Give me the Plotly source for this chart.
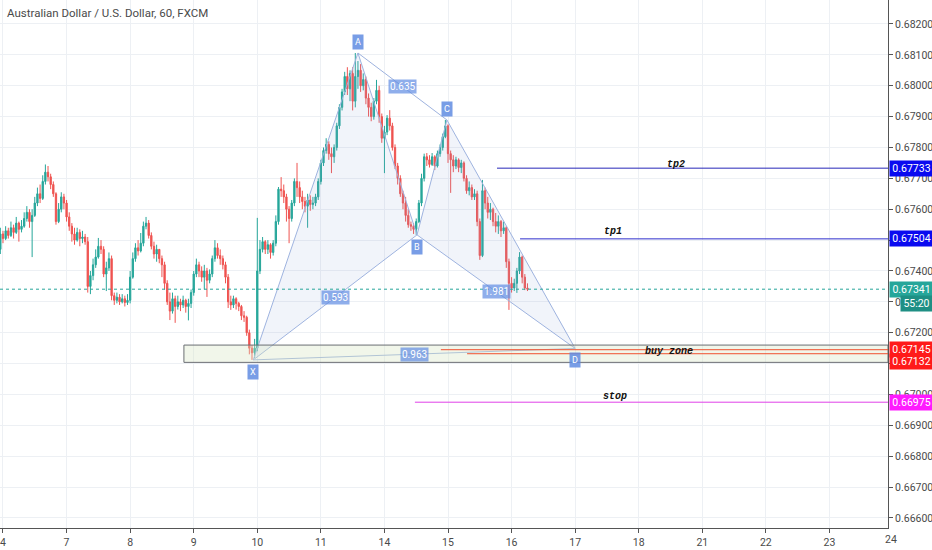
import plotly.graph_objects as go

BASE = 0.67        # candle prices are in points (1e-5) above this
first_hour = -1    # hours from Oct 4 00:00, weekends skipped

open_pts = [
    470, 520, 505, 530, 515, 540, 525, 555, 535, 545, 570,
    590, 560, 580, 620, 650, 635, 690, 720, 705, 680,
    650, 560, 600, 640, 620, 575, 545, 520, 500, 525,
    505, 510, 495, 350, 385, 420, 445, 480, 470, 390,
    410, 440, 320, 305, 315, 300, 310, 298, 305, 380,
    440, 475, 465, 490, 545, 555, 515, 480, 455, 470,
    440, 420, 360, 300, 270, 310, 285, 300, 290, 305,
    285, 295, 330, 390, 420, 400, 380, 400, 370, 390,
    440, 475, 450, 440, 420, 380, 300, 290, 310, 295,
    285, 255, 250, 200, 150, 135, 150, 400, 470, 495,
    470, 485, 460, 490, 560, 665, 660, 640, 600, 570,
    620, 690, 670, 640, 625, 610, 630, 615, 620, 640,
    690, 750, 790, 810, 780, 770, 800, 870, 930, 980,
    1030, 990, 1040, 950, 1030, 1050, 1000, 1020, 960, 930,
    900, 950, 985, 900, 830, 850, 895, 870, 800, 740,
    700, 650, 620, 580, 550, 545, 535, 560, 620, 700,
    770, 760, 745, 770, 740, 780, 800, 835, 870, 780,
    760, 740, 760, 735, 750, 700, 660, 670, 640, 650,
    560, 450, 660, 620, 590, 600, 560, 545, 560, 530,
    540, 430, 360, 345, 360, 400, 445, 380, 345,
]
high_pts = [
    540, 530, 545, 540, 560, 550, 575, 560, 565, 590, 610,
    600, 600, 640, 670, 680, 710, 745, 740, 715, 690,
    655, 620, 655, 650, 630, 590, 555, 540, 540, 535,
    530, 520, 510, 400, 440, 470, 507, 500, 480, 430,
    460, 450, 330, 330, 325, 325, 320, 325, 400, 460,
    490, 500, 523, 560, 575, 565, 525, 495, 485, 470,
    450, 430, 370, 330, 330, 320, 320, 310, 320, 310,
    310, 340, 400, 440, 430, 415, 420, 410, 405, 450,
    500, 490, 470, 450, 430, 390, 320, 320, 315, 300,
    290, 270, 255, 210, 160, 180, 572, 500, 510, 500,
    500, 490, 500, 580, 672, 704, 680, 650, 610, 630,
    700, 750, 690, 660, 640, 650, 645, 640, 650, 700,
    760, 800, 830, 820, 800, 810, 880, 940, 990, 1045,
    1060, 1050, 1060, 1106, 1080, 1070, 1040, 1030, 975, 945,
    960, 1019, 1000, 910, 870, 905, 921, 880, 810, 750,
    710, 660, 640, 600, 560, 555, 570, 630, 715, 780,
    782, 775, 782, 775, 790, 810, 845, 889, 875, 790,
    775, 770, 765, 760, 755, 710, 690, 680, 665, 660,
    570, 695, 670, 640, 620, 605, 588, 580, 565, 560,
    545, 440, 380, 375, 410, 461, 450, 390, 360,
]
low_pts = [
    455, 490, 500, 505, 510, 505, 520, 495, 525, 540, 560,
    540, 445, 575, 610, 620, 630, 680, 690, 665, 640,
    550, 555, 590, 600, 560, 530, 495, 485, 495, 480,
    490, 485, 330, 325, 370, 410, 440, 455, 380, 335,
    400, 305, 290, 295, 290, 295, 285, 290, 295, 375,
    430, 450, 460, 480, 535, 505, 470, 440, 430, 425,
    380, 340, 290, 241, 262, 232, 275, 270, 280, 265,
    240, 280, 320, 380, 380, 365, 340, 316, 360, 380,
    430, 440, 420, 405, 360, 280, 274, 280, 275, 270,
    241, 235, 190, 130, 112, 118, 140, 390, 460, 455,
    455, 440, 450, 480, 550, 640, 620, 560, 490, 560,
    610, 640, 620, 600, 590, 540, 595, 600, 610, 630,
    680, 740, 780, 760, 717, 750, 790, 860, 920, 970,
    970, 950, 920, 930, 990, 980, 985, 940, 900, 885,
    890, 940, 880, 815, 717, 840, 855, 790, 730, 680,
    640, 600, 560, 540, 530, 520, 517, 555, 610, 690,
    740, 735, 740, 727, 735, 770, 790, 830, 750, 653,
    720, 730, 720, 717, 690, 650, 645, 630, 630, 545,
    436, 445, 600, 570, 565, 545, 525, 520, 510, 520,
    410, 274, 330, 335, 329, 390, 360, 338, 335,
]
close_pts = [
    520, 505, 530, 515, 540, 525, 555, 535, 545, 570, 590,
    560, 580, 620, 650, 635, 690, 720, 705, 680, 650,
    560, 600, 640, 620, 575, 545, 520, 500, 525, 505,
    510, 495, 350, 385, 420, 445, 480, 470, 390, 410,
    440, 320, 305, 315, 300, 310, 298, 305, 380, 440,
    475, 465, 490, 545, 555, 515, 480, 455, 470, 440,
    420, 360, 300, 270, 310, 285, 300, 290, 305, 285,
    295, 330, 390, 420, 400, 380, 400, 370, 390, 440,
    475, 450, 440, 420, 380, 300, 290, 310, 295, 285,
    255, 250, 200, 150, 135, 150, 400, 470, 495, 470,
    485, 460, 490, 560, 665, 660, 640, 600, 570, 620,
    690, 670, 640, 625, 610, 630, 615, 620, 640, 690,
    750, 790, 810, 780, 770, 800, 870, 930, 980, 1030,
    990, 1040, 950, 1030, 1050, 1000, 1020, 960, 930, 900,
    950, 985, 900, 830, 850, 895, 870, 800, 740, 700,
    650, 620, 580, 550, 545, 535, 560, 620, 700, 770,
    760, 745, 770, 740, 780, 800, 835, 870, 780, 760,
    740, 760, 735, 750, 700, 660, 670, 640, 650, 560,
    450, 660, 620, 590, 600, 560, 545, 560, 530, 540,
    430, 360, 345, 360, 400, 445, 380, 345, 341,
]

day_labels = ["4", "7", "8", "9", "10", "11", "14", "15", "16",
              "17", "18", "21", "22", "23", "24"]

# harmonic pattern (hour, points)
pattern_names = ["X", "A", "B", "C", "D"]
pattern_hours = [94.5, 134.0, 156.3, 167.6, 216.0]
pattern_pts = [112, 1106, 517, 889, 149]
ratio_names = ["0.593", "0.635", "1.981", "0.963"]

zone_low, zone_high, zone_start = 0.67104, 0.67160, 68.3

level_prices = [0.67733, 0.67504, 0.67145, 0.67132, 0.66975]
level_starts = [186.5, 195.2, 165.3, 175.2, 155.5]
level_colors = ["#2626b8", "#2e2ecc", "#f0502e", "#f0502e", "#e040e8"]
label_colors = ["#0a0af0", "#0a0af0", "#ff1a1a", "#ff1a1a", "#ff1aff"]

note_names = ["tp2", "tp1", "buy zone", "stop"]
note_hours = [254.0, 230.3, 251.4, 231.0]
note_prices = [0.67733, 0.67504, 0.67139, 0.66975]
note_shift = [4, 7, 0, 6]

last_price = 0.67341
countdown = "55:20"

X_RANGE = [-1.13, 334.1]
Y_RANGE = [0.665675, 0.682777]

def price(p):
    return BASE + p / 1e5

hours = list(range(first_hour, first_hour + len(close_pts)))
px = [price(v) for v in pattern_pts]
GREEN, RED = "#26a69a", "#ef5350"
PAT_LINE = "#9eb3df"
PAT_FILL = "rgba(140,165,215,0.12)"
PAT_LABEL = "rgba(96,140,226,0.85)"
NARROW = "Liberation Sans Narrow, Roboto, sans-serif"

fig = go.Figure()

# triangle fills XAB and BCD
for a, b, c in [(0, 1, 2), (2, 3, 4)]:
    fig.add_trace(go.Scatter(
        x=[pattern_hours[a], pattern_hours[b], pattern_hours[c], pattern_hours[a]],
        y=[px[a], px[b], px[c], px[a]],
        mode="lines", fill="toself", fillcolor=PAT_FILL,
        line=dict(width=0), hoverinfo="skip", showlegend=False))

fig.add_trace(go.Candlestick(
    x=hours,
    open=[price(v) for v in open_pts], high=[price(v) for v in high_pts],
    low=[price(v) for v in low_pts], close=[price(v) for v in close_pts],
    increasing=dict(line=dict(color=GREEN, width=1), fillcolor=GREEN),
    decreasing=dict(line=dict(color=RED, width=1), fillcolor=RED),
    whiskerwidth=0, hoverinfo="skip", showlegend=False))

# pattern legs and ratio lines
legs = [(0, 1), (1, 2), (2, 3), (3, 4), (0, 2), (2, 4), (1, 3), (0, 4)]
for a, b in legs:
    fig.add_trace(go.Scatter(
        x=[pattern_hours[a], pattern_hours[b]], y=[px[a], px[b]],
        mode="lines", line=dict(color=PAT_LINE, width=1),
        hoverinfo="skip", showlegend=False))

shapes = [
    dict(type="rect", xref="x", yref="y", x0=zone_start, x1=X_RANGE[1],
         y0=zone_low, y1=zone_high, fillcolor="rgba(215,228,195,0.35)",
         line=dict(color="#6b6e73", width=1), layer="above"),
    dict(type="line", xref="x", yref="y", x0=X_RANGE[0], x1=X_RANGE[1],
         y0=last_price, y1=last_price, line=dict(color=GREEN, width=1, dash="dot")),
]
for p, s, c in zip(level_prices, level_starts, level_colors):
    shapes.append(dict(type="line", xref="x", yref="y", x0=s, x1=X_RANGE[1],
                       y0=p, y1=p, line=dict(color=c, width=1)))

annotations = [
    dict(text="Australian Dollar / U.S. Dollar, 60, FXCM", xref="paper", yref="paper",
         x=0.006, y=1 - 13 / 528, xanchor="left", yanchor="middle", showarrow=False,
         font=dict(family=NARROW, size=11.5, color="#4a4a4a")),
    dict(text="24", xref="paper", yref="paper", x=891 / 888, y=0, yshift=-11,
         xanchor="center", yanchor="middle", showarrow=False,
         font=dict(family=NARROW, size=10.5, color="#4a4a4a")),
]

# pattern point labels
offsets = [-12, 11, -12, 11, -12]
for n, h, p, off in zip(pattern_names, pattern_hours, px, offsets):
    annotations.append(dict(text=n, x=h, y=p, yshift=off, showarrow=False,
                            bgcolor=PAT_LABEL, borderpad=2,
                            font=dict(family="Roboto, sans-serif", size=9, color="white")))

# ratio labels on mid points
ratio_pairs = [(0, 2), (1, 3), (2, 4), (0, 4)]
for t, (a, b) in zip(ratio_names, ratio_pairs):
    annotations.append(dict(text=t, x=(pattern_hours[a] + pattern_hours[b]) / 2,
                            y=(px[a] + px[b]) / 2, showarrow=False,
                            bgcolor="rgba(96,140,226,0.7)", borderpad=1,
                            font=dict(family="Roboto, sans-serif", size=10, color="white")))

for t, h, p, sh in zip(note_names, note_hours, note_prices, note_shift):
    annotations.append(dict(text=t, x=h, y=p, yshift=sh, showarrow=False,
                            font=dict(family="Liberation Mono, monospace", size=10,
                                      color="#111", style="italic", weight="bold")))

# price labels on the right axis
label_shift = [0, 0, 0, -8, 0]
for p, c, sh in zip(level_prices, label_colors, label_shift):
    annotations.append(dict(text=f"{p:.5f}", xref="paper", yref="y", x=1, y=p,
                            yshift=sh, xanchor="left", xshift=1, width=41,
                            showarrow=False, bgcolor=c, borderpad=1,
                            font=dict(family=NARROW, size=10.5, color="white")))
annotations.append(dict(text=f"{last_price:.5f}", xref="paper", yref="y", x=1, y=last_price,
                        xanchor="left", xshift=1, width=41, showarrow=False,
                        bgcolor=GREEN, borderpad=1,
                        font=dict(family=NARROW, size=10.5, color="white")))
annotations.append(dict(text=countdown, xref="paper", yref="y", x=1, y=last_price,
                        yshift=-14, xanchor="left", xshift=12, width=29, showarrow=False,
                        bgcolor="#1f8f84", borderpad=1,
                        font=dict(family=NARROW, size=10.5, color="white")))

tick_font = dict(family=NARROW, size=10.5, color="#4a4a4a")
fig.update_layout(
    width=932, height=550,
    margin=dict(l=0, r=44, t=0, b=22),
    plot_bgcolor="white", paper_bgcolor="white",
    shapes=shapes, annotations=annotations,
    xaxis=dict(range=X_RANGE, tickvals=[24 * i for i in range(len(day_labels))],
               ticktext=day_labels, showgrid=True, gridcolor="#edf0f4",
               zeroline=False, showline=True, linecolor="#555", linewidth=1,
               ticks="outside", ticklen=4, tickcolor="#555", tickfont=tick_font,
               ticklabeloverflow="allow", automargin=False,
               rangeslider=dict(visible=False), fixedrange=True),
    yaxis=dict(range=Y_RANGE, side="right", tick0=0.666, dtick=0.001,
               tickformat=".5f", showgrid=True, gridcolor="#edf0f4",
               zeroline=False, showline=True, linecolor="#555", linewidth=1,
               ticks="outside", ticklen=4, tickcolor="#555", tickfont=tick_font,
               automargin=False, fixedrange=True),
)

fig.write_html("out.html", config={"displayModeBar": False},
               post_script="document.body.style.margin='0';")
